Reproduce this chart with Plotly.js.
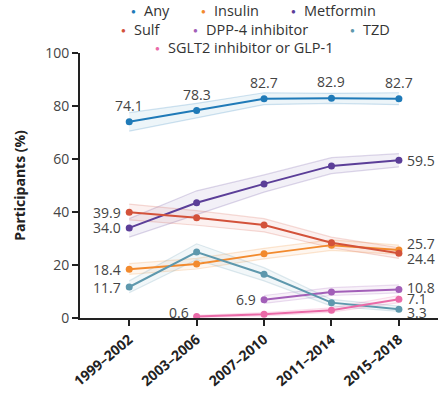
<!DOCTYPE html>
<html><head><meta charset="utf-8">
<script src="https://cdn.plot.ly/plotly-3.0.1.min.js"></script>
<style>html,body{margin:0;padding:0;background:#fff}#chart{width:438px;height:393px}</style>
</head><body><div id="chart"></div>
<script>
const periods = ["1999–2002","2003–2006","2007–2010","2011–2014","2015–2018"];

const anyVals   = [74.1, 78.3, 82.7, 82.9, 82.7];
const anyLo     = [70.5, 75.5, 80.5, 81.0, 80.5];
const anyHi     = [77.5, 81.0, 85.0, 84.8, 85.0];

const insulinVals = [18.4, 20.4, 24.2, 27.5, 25.7];
const insulinLo   = [16.5, 18.5, 22.3, 25.5, 24.0];
const insulinHi   = [20.5, 22.5, 26.3, 29.5, 27.5];

const metforminVals = [34.0, 43.5, 50.6, 57.4, 59.5];
const metforminLo   = [30.5, 39.0, 47.5, 54.5, 57.0];
const metforminHi   = [37.5, 48.0, 54.0, 60.5, 62.0];

const sulfVals = [39.9, 37.8, 35.1, 28.4, 24.4];
const sulfLo   = [37.0, 35.0, 32.5, 26.5, 22.5];
const sulfHi   = [43.0, 40.5, 37.5, 30.5, 26.5];

const dppVals = [null, null, 6.9, 9.8, 10.8];
const dppLo   = [null, null, 5.5, 8.5, 9.5];
const dppHi   = [null, null, 8.5, 11.5, 12.5];

const tzdVals = [11.7, 24.9, 16.5, 5.8, 3.3];
const tzdLo   = [9.5, 22.0, 14.0, 4.5, 2.5];
const tzdHi   = [14.0, 28.0, 19.0, 7.0, 4.5];

const sglVals = [null, 0.6, 1.4, 2.9, 7.1];
const sglLo   = [null, 0.2, 0.8, 2.2, 5.8];
const sglHi   = [null, 1.0, 2.0, 3.8, 8.5];

const seriesNames = ["Any","Insulin","Metformin","Sulf","DPP-4 inhibitor","TZD","SGLT2 inhibitor or GLP-1"];
const colors = ["#1f7ab8","#f28a2e","#5b3e98","#d3523a","#a25fb8","#5e98ad","#ea6aa8"];

const series = [
  [anyVals, anyLo, anyHi],
  [insulinVals, insulinLo, insulinHi],
  [metforminVals, metforminLo, metforminHi],
  [sulfVals, sulfLo, sulfHi],
  [dppVals, dppLo, dppHi],
  [tzdVals, tzdLo, tzdHi],
  [sglVals, sglLo, sglHi]
];

function rgba(hex, a){
  const n = parseInt(hex.slice(1),16);
  return `rgba(${(n>>16)&255},${(n>>8)&255},${n&255},${a})`;
}

const traces = [];
series.forEach((s,i)=>{
  const c = colors[i];
  const xs = periods.filter((p,k)=>s[0][k]!==null);
  const hi = s[2].filter(v=>v!==null);
  const lo = s[1].filter(v=>v!==null);
  traces.push({x:xs, y:hi, type:'scatter', mode:'lines', line:{color:rgba(c,0.2), width:1.2}, showlegend:false, hoverinfo:'skip'});
  traces.push({x:xs, y:lo, type:'scatter', mode:'lines', fill:'tonexty', fillcolor:rgba(c,0.08), line:{color:rgba(c,0.2), width:1.2}, showlegend:false, hoverinfo:'skip'});
});
series.forEach((s,i)=>{
  traces.push({x:periods, y:s[0], type:'scatter', mode:'lines+markers', name:seriesNames[i],
    line:{color:colors[i], width:2}, marker:{color:colors[i], size:7}, cliponaxis:false, showlegend:false});
});

const lblFont = {family:'"Open Sans", sans-serif', size:14, color:'#444'};
const annotations = [];
function lab(xi, v, pos, dy){
  const a = {x:periods[xi], y:v, xref:'x', yref:'y', text:v.toFixed(1), showarrow:false, font:lblFont, yshift:dy||0};
  if(pos==='top'){a.yanchor='bottom'; a.yshift=(dy||0)+5;}
  if(pos==='left'){a.xanchor='right'; a.xshift=-6;}
  if(pos==='right'){a.xanchor='left'; a.xshift=6;}
  annotations.push(a);
}
lab(0, anyVals[0], 'top'); lab(1, anyVals[1], 'top'); lab(2, anyVals[2], 'top'); lab(3, anyVals[3], 'top'); lab(4, anyVals[4], 'top');
lab(0, sulfVals[0], 'left'); lab(0, metforminVals[0], 'left'); lab(0, insulinVals[0], 'left'); lab(0, tzdVals[0], 'left');
lab(1, sglVals[1], 'left', 4); lab(2, dppVals[2], 'left');
lab(4, metforminVals[4], 'right'); lab(4, insulinVals[4], 'right', 6); lab(4, sulfVals[4], 'right', -5);
lab(4, dppVals[4], 'right', 2); lab(4, sglVals[4], 'right', 1); lab(4, tzdVals[4], 'right', -3);

// legend as annotations
const legRows = [[0,1,2],[3,4,5],[6]];
const legX = [[133,203,293],[123,195,352],[157]];
const legY = [10,29,47];
const legFont = {family:'"Open Sans", sans-serif', size:14.5, color:'#333'};
legRows.forEach((row,r)=>{
  row.forEach((si,j)=>{
    annotations.push({xref:'paper', yref:'paper', x:(legX[r][j]-80)/358, y:1+(53-legY[r])/265, text:'●', showarrow:false,
      font:{size:8, color:colors[si]}, xanchor:'center', yanchor:'middle'});
    annotations.push({xref:'paper', yref:'paper', x:(legX[r][j]+9-80)/358, y:1+(53-legY[r])/265, text:seriesNames[si], showarrow:false,
      font:legFont, xanchor:'left', yanchor:'middle'});
  });
});

const layout = {
  width:438, height:393,
  margin:{l:80, r:0, t:53, b:75},
  paper_bgcolor:'#fff', plot_bgcolor:'#fff',
  showlegend:false,
  xaxis:{type:'category', range:[-0.73,4.58], showgrid:false, zeroline:false, showline:true, linecolor:'#222', linewidth:2,
    ticks:'outside', ticklen:6, tickwidth:2, tickcolor:'#222', tickangle:-40, automargin:false, ticklabelstandoff:0,
    tickfont:{family:'"Open Sans", sans-serif', size:14, color:'#222', weight:'bold'}, fixedrange:true},
  yaxis:{range:[0,100], tickvals:[0,20,40,60,80,100], showgrid:false, zeroline:false, showline:true, linecolor:'#222', linewidth:2,
    ticks:'outside', ticklen:6, tickwidth:2, tickcolor:'#222', automargin:false,
    tickfont:{family:'"Open Sans", sans-serif', size:14, color:'#444'},
    title:{text:'Participants (%)', font:{family:'"Open Sans", sans-serif', size:14, color:'#222', weight:'bold'}, standoff:16}},
  annotations:annotations
};
Plotly.newPlot('chart', traces, layout, {displayModeBar:false, staticPlot:true});
</script></body></html>
